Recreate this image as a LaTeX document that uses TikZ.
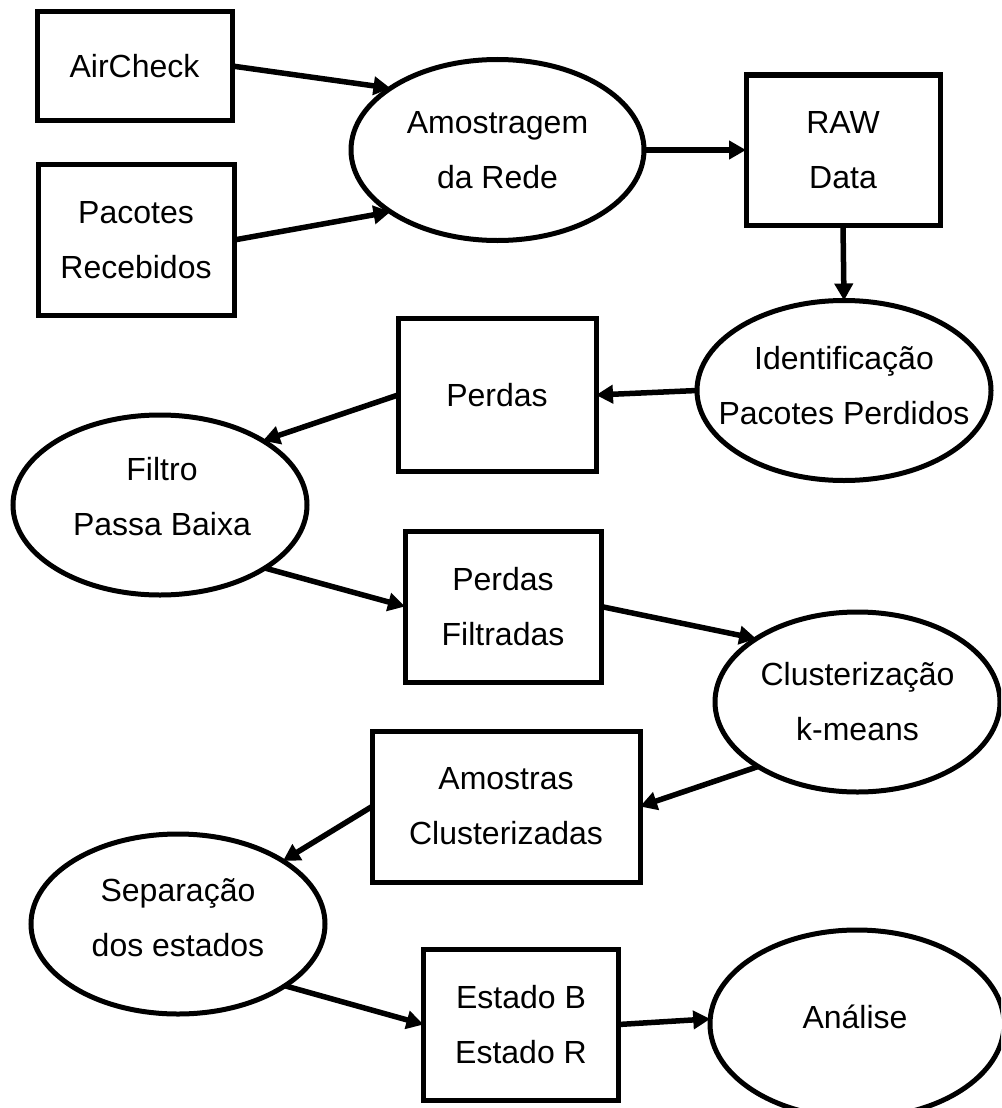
\documentclass[tikz,border=0pt]{standalone}
\usepackage{fontspec}
\setmainfont{Liberation Sans}
\usetikzlibrary{shapes.geometric,arrows.meta}
\newcommand{\zw}[1]{\makebox[0pt]{#1}}
\begin{document}
\begin{tikzpicture}[x=1pt,y=-1pt,
  every node/.style={font=\fontsize{32}{55}\selectfont, inner sep=0pt, outer sep=0pt, align=center},
  rect/.style={draw, rectangle, line width=5pt},
  oval/.style={draw, ellipse, line width=5pt, minimum width=294pt, minimum height=180pt},
  txt/.style={draw=none, fill=none},
  arr/.style={line width=5.5pt, -{Triangle[length=17pt,width=18pt]}}
]
\path[use as bounding box, clip] (0,0) rectangle (1001,1108);
\fill[white] (0,0) rectangle (1001,1108);

\node[rect, minimum width=195pt, minimum height=108pt] (air) at (134.5,66) {AirCheck};
\node[rect, minimum width=196pt, minimum height=151pt] (pac) at (136,240) {Pacotes\\Recebidos};
\node[oval, minimum width=293pt, minimum height=181pt] (amos) at (497.5,150) {\zw{Amostragem}\\\zw{da Rede}};
\node[rect, minimum width=194pt, minimum height=150pt] (raw) at (843,150) {RAW\\Data};
\node[oval] (ident) at (844,390.5) {};
\node[txt] (identt) at (844,386) {\zw{Identificação}\\\zw{Pacotes Perdidos}};
\node[rect, minimum width=198pt, minimum height=153pt] (perdas) at (497,395) {Perdas};
\node[oval] (filtro) at (160,505) {};
\node[txt] (filtrot) at (162,497) {\zw{Filtro}\\\zw{Passa Baixa}};
\node[rect, minimum width=196pt, minimum height=151pt] (pf) at (503,606.5) {Perdas\\Filtradas};
\node[oval, minimum width=285pt] (clus) at (857.5,702) {\zw{Clusterização}\\\zw{k-means}};
\node[rect, minimum width=268pt, minimum height=151pt] (amo) at (506,806.5) {Amostras\\Clusterizadas};
\node[oval] (sep) at (178,924) {};
\node[txt] (sept) at (178,918) {\zw{Separação}\\\zw{dos estados}};
\node[rect, minimum width=195pt, minimum height=151pt] (est) at (521,1024.5) {Estado B\\Estado R};
\node[oval, minimum height=188pt] (ana) at (857,1024) {};
\node[txt] (anat) at (855,1017) {\zw{Análise}};

\draw[arr] (air.east) -- (amos.150);
\draw[arr] (pac.east) -- (amos.210);
\draw[arr] (amos.east) -- (raw.west);
\draw[arr] (raw.south) -- (ident.north);
\draw[arr] (ident.west) -- (perdas.east);
\draw[arr] (perdas.west) -- (filtro.32);
\draw[arr] (filtro.329) -- (pf.west);
\draw[arr] (pf.east) -- (clus.148);
\draw[arr] (clus.213) -- (amo.east);
\draw[arr] (amo.west) -- (sep.31);
\draw[arr] (sep.330) -- (est.west);
\draw[arr] (est.east) -- (ana.178);
\end{tikzpicture}
\end{document}
